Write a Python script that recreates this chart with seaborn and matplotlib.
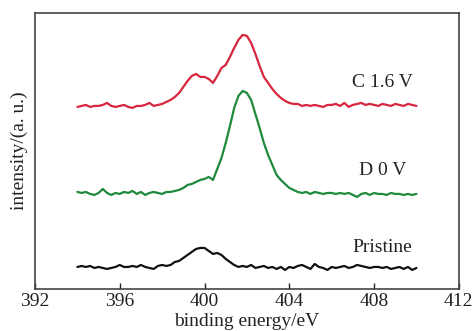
import numpy as np
import pandas as pd
import matplotlib
matplotlib.use("Agg")
import matplotlib.pyplot as plt
import seaborn as sns

# binding energy grid (eV), 0.2 eV step
energy = np.round(np.arange(394.0, 410.01, 0.2), 1)

# intensities (arbitrary units, curves already offset)
c_16v = [182, 183, 184, 182, 183, 183, 184, 186, 183, 182,
         183, 184, 182, 181, 183, 183, 184, 186, 183, 184,
         185, 187, 189, 192, 196, 202, 208, 213, 215, 212,
         212, 210, 206, 213, 221, 224, 232, 241, 249, 254,
         253, 246, 235, 223, 212, 206, 200, 195, 191, 188,
         186, 185, 185, 183, 184, 183, 184, 183, 182, 184,
         184, 185, 183, 186, 182, 184, 185, 186, 184, 185,
         184, 183, 185, 184, 183, 185, 184, 183, 185, 184, 183]
d_0v = [97, 96, 97, 95, 94, 96, 100, 96, 94, 96,
        95, 97, 96, 98, 95, 97, 94, 96, 97, 96,
        95, 97, 97, 98, 99, 101, 104, 105, 107, 109,
        110, 112, 109, 120, 131, 146, 163, 181, 193, 198,
        196, 189, 175, 161, 146, 134, 124, 114, 109, 105,
        101, 99, 97, 96, 97, 95, 97, 96, 95, 96,
        96, 95, 96, 95, 96, 94, 92, 95, 96, 94,
        96, 95, 95, 94, 96, 95, 95, 94, 95, 94, 95]
pristine = [22, 23, 22, 23, 21, 22, 21, 20, 21, 22,
            24, 22, 22, 23, 22, 24, 22, 21, 20, 23,
            24, 23, 24, 27, 28, 31, 34, 37, 40, 41,
            41, 38, 35, 36, 34, 30, 27, 24, 22, 23,
            22, 24, 21, 22, 23, 21, 22, 20, 22, 19,
            22, 21, 23, 24, 22, 20, 25, 22, 21, 19,
            22, 21, 22, 23, 21, 22, 24, 23, 22, 21,
            22, 22, 21, 22, 20, 21, 22, 20, 22, 19, 21]

labels = ["C 1.6 V", "D 0 V", "Pristine"]
label_y = [206, 118, 41]
colors = ["#d7263d", "#1e8a3c", "#111111"]

sns.set_style("white")
plt.rcParams["font.family"] = ["Liberation Serif", "DejaVu Serif"]

fig = plt.figure(figsize=(4.73, 3.31), dpi=100)
ax = fig.add_axes([0.074, 0.127, 0.896, 0.834])

for series, col in zip([c_16v, d_0v, pristine], colors):
    sns.lineplot(x=energy, y=series, color=col, linewidth=1.6, ax=ax)

for lab, yy in zip(labels, label_y):
    ax.text(408.4, yy, lab, ha="center", va="center", fontsize=14, color="#222222")

ax.set_xlim(392, 412)
ax.set_ylim(0, 276)
ax.set_xticks([392, 396, 400, 404, 408, 412])
ax.set_yticks([])
ax.tick_params(axis="x", direction="in", length=4, width=1, labelsize=14,
               pad=3, colors="#222222", bottom=True)
ax.set_xlabel("binding energy/eV", fontsize=14, labelpad=2, color="#222222")
ax.set_ylabel("intensity/(a. u.)", fontsize=14, labelpad=5, color="#222222")
for sp in ax.spines.values():
    sp.set_color("#444444")
    sp.set_linewidth(1.2)

fig.savefig("out.png", dpi=100)
